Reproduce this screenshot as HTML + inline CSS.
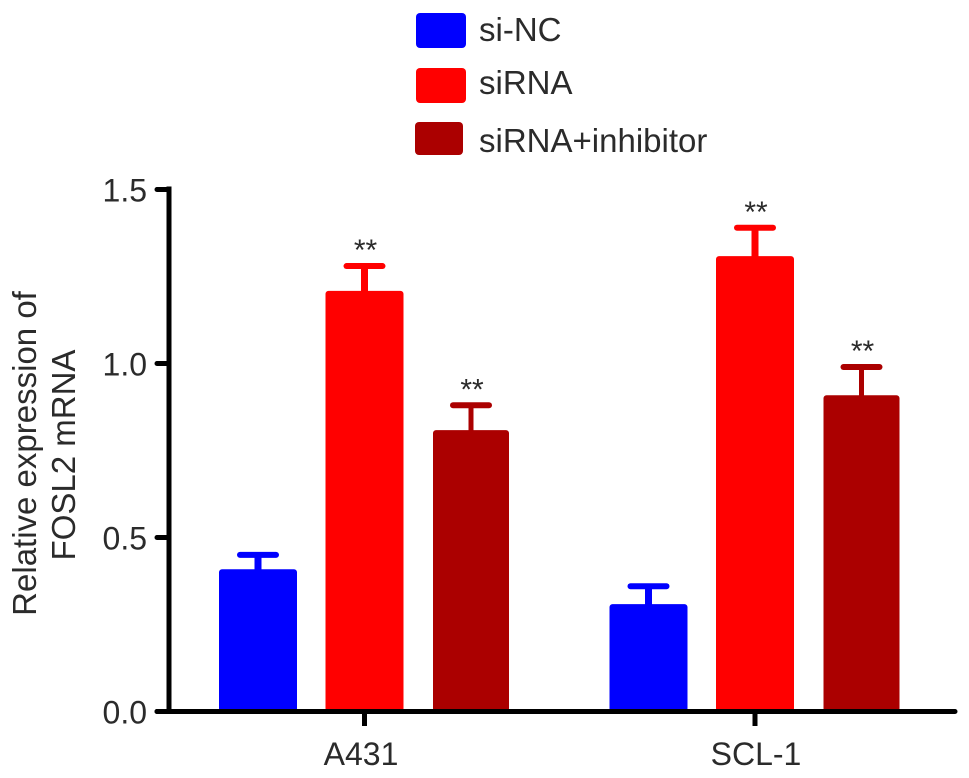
<!DOCTYPE html>
<html lang="en">
<head>
<meta charset="utf-8">
<title>Relative expression of FOSL2 mRNA</title>
<style>
html,body{margin:0;padding:0;background:#fff;}
svg{display:block;}
text{font-family:"Liberation Sans",Arial,sans-serif;fill:#2b2b2b;}
</style>
</head>
<body>
<svg id="chart" width="969" height="778" viewBox="0 0 969 778" xmlns="http://www.w3.org/2000/svg"></svg>
<script>
const categories = ['A431', 'SCL-1'];
const seriesNames = ['si-NC', 'siRNA', 'siRNA+inhibitor'];
const seriesColors = ['#0000ff', '#ff0000', '#ab0000'];
const siNcValues = [0.40, 0.30];
const siRnaValues = [1.20, 1.30];
const inhibitorValues = [0.80, 0.90];
const siNcErrors = [0.45, 0.36];
const siRnaErrors = [1.28, 1.39];
const inhibitorErrors = [0.88, 0.99];
const siNcMarks = ['', ''];
const siRnaMarks = ['**', '**'];
const inhibitorMarks = ['**', '**'];
const yTicks = ['0.0', '0.5', '1.0', '1.5'];

const seriesValues = [siNcValues, siRnaValues, inhibitorValues];
const seriesErrors = [siNcErrors, siRnaErrors, inhibitorErrors];
const seriesMarks = [siNcMarks, siRnaMarks, inhibitorMarks];

const NS = 'http://www.w3.org/2000/svg';
const svg = document.getElementById('chart');
const yBase = 711.5;
const yScale = 348;
function yAxis(v) { return yBase - v * yScale; }
function xGroup(i) { return 364.5 + i * 390.5; }
function xBar(i, s) { return xGroup(i) + (s - 1) * 106.5; }
function make(tag, attrs, name, parent) {
  const el = document.createElementNS(NS, tag);
  for (const k in attrs) el.setAttribute(k, attrs[k]);
  
  
  (parent || svg).appendChild(el);
  return el;
}

/* legend */
const legendBoxes = [[416, 13, 50, 35], [416, 68, 50, 35], [415, 122, 48, 33]];
const legendBaselines = [41, 94, 152];
seriesNames.forEach((name, s) => {
  const b = legendBoxes[s];
  make('rect', {x: b[0], y: b[1], width: b[2], height: b[3], rx: 4, fill: seriesColors[s]}, 'legend-swatch-' + s);
  const t = make('text', {x: 479, y: legendBaselines[s], 'font-size': 33}, 'legend-label-' + s);
  t.textContent = name;
});

/* bars, error bars, significance marks */
categories.forEach((cat, i) => {
  seriesNames.forEach((name, s) => {
    const cx = xBar(i, s);
    const top = yAxis(seriesValues[s][i]);
    const errY = yAxis(seriesErrors[s][i]);
    const w = s === 2 ? 76 : 78;
    const color = seriesColors[s];
    make('line', {x1: cx, x2: cx, y1: errY, y2: top, stroke: color, 'stroke-width': s === 2 ? 5 : 7}, 'error-stem-' + i + '-' + s);
    make('line', {x1: cx - 18, x2: cx + 18, y1: errY, y2: errY, stroke: color, 'stroke-width': 6, 'stroke-linecap': 'round'}, 'error-cap-' + i + '-' + s);
    make('rect', {x: cx - w / 2 + 3, y: top, width: w - 6, height: yBase - top - 3, fill: color, stroke: color, 'stroke-width': 6, 'stroke-linejoin': 'round'}, 'bar-' + i + '-' + s);
    if (seriesMarks[s][i]) {
      const t = make('text', {x: cx + 1, y: errY - 6, 'font-size': 30, 'text-anchor': 'middle'}, 'significance-mark-' + i + '-' + s);
      t.textContent = seriesMarks[s][i];
    }
  });
});

/* axes */
make('line', {x1: 169, x2: 169, y1: 186.5, y2: 714, stroke: '#000', 'stroke-width': 5}, 'y-axis-line');
make('line', {x1: 157, x2: 955, y1: yBase, y2: yBase, stroke: '#000', 'stroke-width': 5, 'stroke-linecap': 'round'}, 'x-axis-line');

yTicks.forEach((label) => {
  const y = yAxis(parseFloat(label));
  make('line', {x1: 157, x2: 169, y1: y, y2: y, stroke: '#000', 'stroke-width': 5, 'stroke-linecap': 'round'}, 'y-tick-' + label);
  const t = make('text', {x: 147, y: y + 12, 'font-size': 32, 'text-anchor': 'end'}, 'y-tick-label-' + label);
  t.textContent = label;
});

categories.forEach((cat, i) => {
  const x = xGroup(i);
  make('line', {x1: x, x2: x, y1: yBase, y2: 726, stroke: '#000', 'stroke-width': 5}, 'x-tick-' + cat);
  const t = make('text', {x: i === 0 ? x - 3.5 : x + 1, y: 765, 'font-size': 32, 'text-anchor': 'middle'}, 'x-tick-label-' + cat);
  t.textContent = cat;
});

/* y axis title */
const t1 = make('text', {transform: 'translate(36,453.5) rotate(-90)', 'font-size': 33, 'text-anchor': 'middle'}, 'y-axis-title-line-1');
t1.textContent = 'Relative expression of';
const t2 = make('text', {transform: 'translate(75,455) rotate(-90)', 'font-size': 33, 'text-anchor': 'middle'}, 'y-axis-title-line-2');
t2.textContent = 'FOSL2 mRNA';
</script>
</body>
</html>
